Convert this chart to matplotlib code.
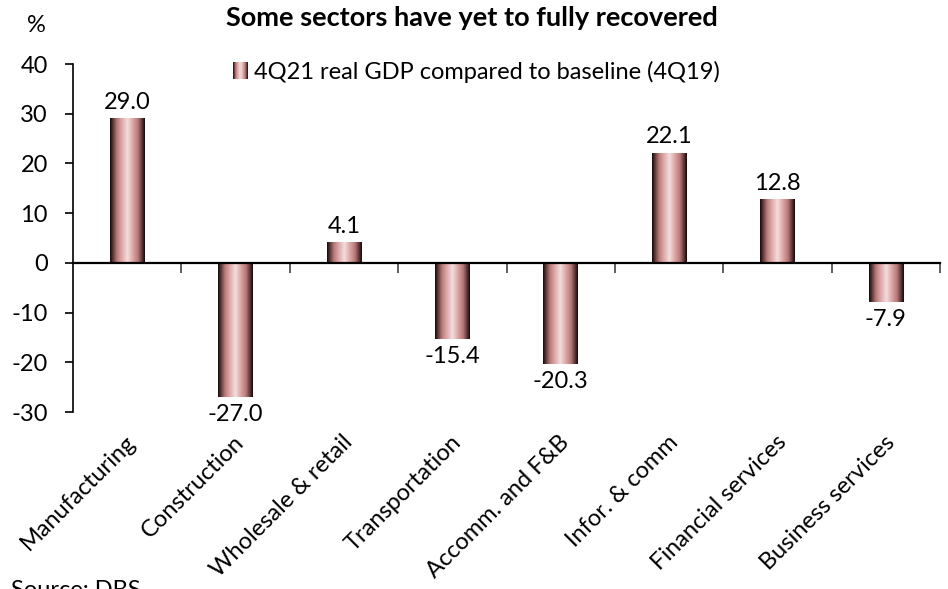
import numpy as np
import matplotlib
matplotlib.use("Agg")
import matplotlib.pyplot as plt
from matplotlib.colors import LinearSegmentedColormap
from matplotlib.legend_handler import HandlerBase
from matplotlib.patches import Rectangle

sectors = ["Manufacturing", "Construction", "Wholesale & retail", "Transportation",
           "Accomm. and F&B", "Infor. & comm", "Financial services", "Business services"]
gdp_vs_base = [29.0, -27.0, 4.1, -15.4, -20.3, 22.1, 12.8, -7.9]
series_label = "4Q21 real GDP compared to baseline (4Q19)"
title = "Some sectors have yet to fully recovered"
yticks = [40, 30, 20, 10, 0, -10, -20, -30]

FONT = "Lato"
FS = 17
plt.rcParams["font.family"] = [FONT, "DejaVu Sans"]

# Horizontal "cylinder" gradient used for each bar
grad_cmap = LinearSegmentedColormap.from_list(
    "rose_tube",
    [(0.0, "#120808"), (0.08, "#5a3434"), (0.2, "#b87a7a"), (0.32, "#dba3a3"),
     (0.5, "#f3dede"), (0.66, "#dba3a3"), (0.8, "#b87a7a"), (0.92, "#5a3434"),
     (1.0, "#120808")])
grad = np.linspace(0, 1, 256).reshape(1, -1)

fig = plt.figure(figsize=(9.48, 5.89), dpi=100)
ax = fig.add_axes([0.077, 0.3005, 0.9146, 0.5908])

bar_w = 0.32
x = np.arange(len(sectors))
for xi, v in zip(x, gdp_vs_base):
    ax.imshow(grad, cmap=grad_cmap, aspect="auto", interpolation="bilinear",
              extent=(xi - bar_w / 2, xi + bar_w / 2, 0, v), zorder=2)
    if v >= 0:
        ax.annotate(f"{v:.1f}", (xi, v), xytext=(0, 4), textcoords="offset points",
                    ha="center", va="bottom", fontsize=FS)
    else:
        ax.annotate(f"{v:.1f}", (xi, v), xytext=(0, -5), textcoords="offset points",
                    ha="center", va="top", fontsize=FS)

ax.set_xlim(-0.5, len(sectors) - 0.5)
ax.set_ylim(-30, 40)
ax.set_yticks(yticks)
ax.set_yticklabels([str(t) for t in yticks], fontsize=FS)
ax.tick_params(axis="y", direction="out", length=6, width=1.2, pad=12)

ax.spines["top"].set_visible(False)
ax.spines["right"].set_visible(False)
ax.spines["left"].set_linewidth(1.2)
ax.spines["bottom"].set_position(("data", 0))
ax.spines["bottom"].set_linewidth(1.6)
ax.set_xticks(np.arange(0.5, len(sectors), 1.0))
ax.set_xticklabels([])
ax.tick_params(axis="x", direction="out", length=7, width=1.2, color="#444444")

# Category names rotated along the bottom of the plot
for xi, name in zip(x, sectors):
    ax.annotate(name, (xi - 0.02, -30), xytext=(0, -14), textcoords="offset points",
                rotation=45, rotation_mode="anchor", ha="right", va="top",
                fontsize=FS, annotation_clip=False)


class GradientHandler(HandlerBase):
    def create_artists(self, legend, orig_handle, xdescent, ydescent, width, height,
                       fontsize, trans):
        n = 14
        w = width / n
        arts = []
        for i in range(n):
            c = grad_cmap((i + 0.5) / n)
            arts.append(Rectangle((-xdescent + i * w, -ydescent), w, height,
                                  facecolor=c, edgecolor="none", transform=trans))
        return arts


proxy = Rectangle((0, 0), 1, 1)
leg = ax.legend([proxy], [series_label], handler_map={Rectangle: GradientHandler()},
                loc="upper left", bbox_to_anchor=(0.16, 1.07), frameon=False,
                fontsize=FS, handlelength=0.64, handleheight=0.7, handletextpad=0.25)

fig.text(0.498, 0.969, title, ha="center", va="center", fontsize=19.5, fontweight="bold")
fig.text(0.038, 0.956, "%", ha="center", va="center", fontsize=FS)
fig.text(0.012, -0.014, "Source: DBS", ha="left", va="baseline", fontsize=FS)

fig.savefig("out.png", dpi=100)
